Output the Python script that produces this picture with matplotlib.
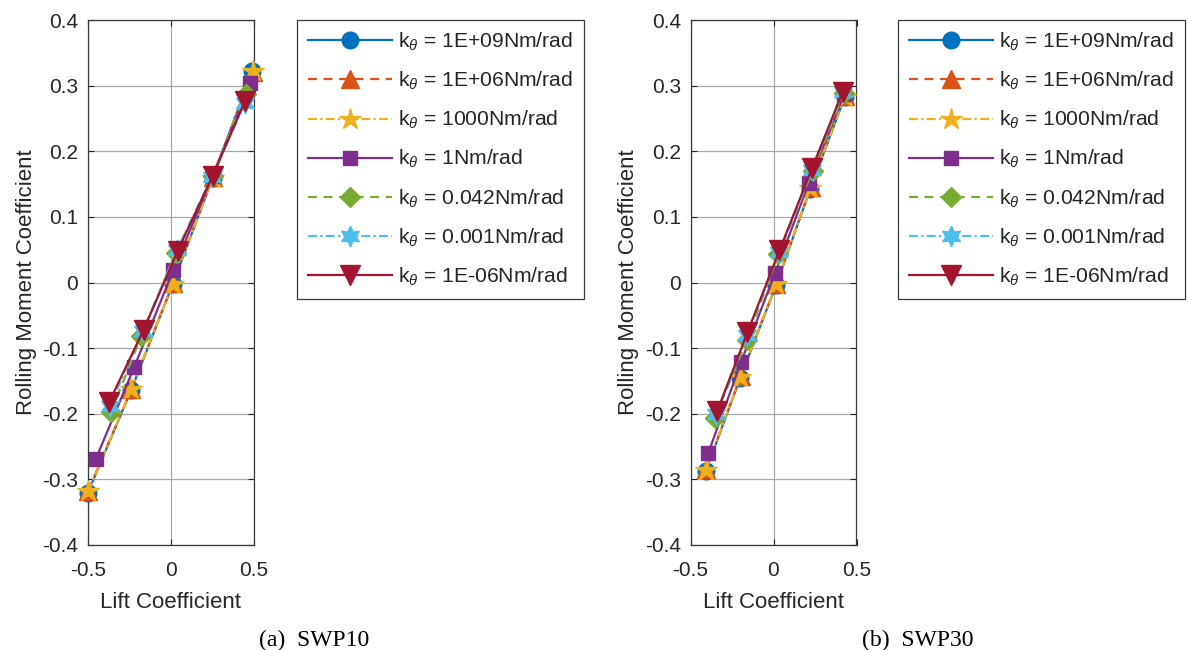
import matplotlib
matplotlib.use("Agg")
import matplotlib.pyplot as plt

plt.rcParams["font.family"] = ["Liberation Sans", "DejaVu Sans"]
plt.rcParams["mathtext.fontset"] = "custom"
plt.rcParams["mathtext.rm"] = "Liberation Sans"
plt.rcParams["mathtext.it"] = "Liberation Sans:italic"
plt.rcParams["axes.unicode_minus"] = False

# Stiffness cases (legend labels)
stiffness_labels = [
    r"k$_{\theta}$ = 1E+09Nm/rad",
    r"k$_{\theta}$ = 1E+06Nm/rad",
    r"k$_{\theta}$ = 1000Nm/rad",
    r"k$_{\theta}$ = 1Nm/rad",
    r"k$_{\theta}$ = 0.042Nm/rad",
    r"k$_{\theta}$ = 0.001Nm/rad",
    r"k$_{\theta}$ = 1E-06Nm/rad",
]

# SWP10: lift coefficient / rolling moment coefficient per stiffness case
swp10_cl = [
    [-0.500, -0.240, 0.010, 0.250, 0.490],
    [-0.498, -0.238, 0.012, 0.252, 0.492],
    [-0.497, -0.240, 0.011, 0.251, 0.491],
    [-0.453, -0.220, 0.014, 0.250, 0.477],
    [-0.360, -0.180, 0.030, 0.250, 0.452],
    [-0.368, -0.170, 0.035, 0.248, 0.446],
    [-0.372, -0.165, 0.040, 0.250, 0.445],
]
swp10_cr = [
    [-0.320, -0.164, -0.003, 0.159, 0.323],
    [-0.317, -0.162, -0.001, 0.161, 0.321],
    [-0.318, -0.163, -0.002, 0.160, 0.322],
    [-0.269, -0.128, 0.019, 0.162, 0.304],
    [-0.197, -0.082, 0.045, 0.163, 0.287],
    [-0.188, -0.074, 0.049, 0.161, 0.274],
    [-0.182, -0.072, 0.048, 0.162, 0.276],
]

# SWP30
swp30_cl = [
    [-0.407, -0.200, 0.016, 0.222, 0.428],
    [-0.405, -0.198, 0.017, 0.223, 0.429],
    [-0.406, -0.200, 0.016, 0.222, 0.428],
    [-0.393, -0.195, 0.010, 0.212, 0.425],
    [-0.353, -0.160, 0.030, 0.235, 0.425],
    [-0.345, -0.158, 0.033, 0.232, 0.420],
    [-0.339, -0.157, 0.036, 0.232, 0.417],
]
swp30_cr = [
    [-0.287, -0.145, -0.004, 0.143, 0.282],
    [-0.284, -0.143, -0.002, 0.145, 0.284],
    [-0.285, -0.144, -0.003, 0.144, 0.283],
    [-0.260, -0.121, 0.015, 0.151, 0.287],
    [-0.206, -0.088, 0.043, 0.170, 0.289],
    [-0.200, -0.080, 0.047, 0.172, 0.290],
    [-0.196, -0.076, 0.049, 0.174, 0.291],
]

panel_captions = ["(a)  SWP10", "(b)  SWP30"]
x_ticks = [-0.5, 0, 0.5]
y_ticks = [-0.4, -0.3, -0.2, -0.1, 0, 0.1, 0.2, 0.3, 0.4]
x_tick_labels = ["-0.5", "0", "0.5"]
y_tick_labels = ["-0.4", "-0.3", "-0.2", "-0.1", "0", "0.1", "0.2", "0.3", "0.4"]

colors = ["#0072BD", "#D95319", "#EDB120", "#7E2F8E", "#77AC30", "#4DBEEE", "#A2142F"]
markers = ["o", "^", "*", "s", "D", (6, 1, 0), "v"]
msizes = [12, 13, 16, 10, 10, 15, 15]
styles = ["-", (0, (4, 3)), (0, (4, 1.5, 1, 1.5)), "-", (0, (4, 3)), (0, (4, 1.5, 1, 1.5)), "-"]

fig = plt.figure(figsize=(11.88, 6.5), dpi=100)
ink = "#262626"

axes_rects = [
    [88 / 1188, 1 - 545 / 650, 166 / 1188, 525 / 650],
    [690.5 / 1188, 1 - 545 / 650, 166 / 1188, 525 / 650],
]
legend_anchor = [(297 / 1188, 1 - 20 / 650), (898 / 1188, 1 - 20 / 650)]
caption_x = [314 / 1188, 918 / 1188]

for p, (cl_set, cr_set) in enumerate([(swp10_cl, swp10_cr), (swp30_cl, swp30_cr)]):
    ax = fig.add_axes(axes_rects[p])
    for i in range(len(stiffness_labels)):
        ax.plot(cl_set[i], cr_set[i], color=colors[i], linestyle=styles[i],
                linewidth=1.6, marker=markers[i], markersize=msizes[i],
                markerfacecolor=colors[i], markeredgecolor=colors[i],
                label=stiffness_labels[i], clip_on=False, zorder=3 + i)
    ax.set_xlim(-0.5, 0.5)
    ax.set_ylim(-0.4, 0.4)
    ax.set_xticks(x_ticks)
    ax.set_xticklabels(x_tick_labels)
    ax.set_yticks(y_ticks)
    ax.set_yticklabels(y_tick_labels)
    ax.grid(True, color="#a8a8a8", linewidth=0.9)
    ax.set_axisbelow(True)
    ax.tick_params(direction="in", length=4, width=0.8, colors=ink,
                   labelsize=15, top=True, right=True)
    ax.tick_params(axis="x", pad=11.5)
    ax.tick_params(axis="y", pad=7)
    for s in ax.spines.values():
        s.set_color("#3a3a3a")
        s.set_linewidth(0.9)
    ax.set_xlabel("Lift Coefficient", fontsize=16, color=ink, labelpad=9)
    ax.set_ylabel("Rolling Moment Coefficient", fontsize=16, color=ink, labelpad=4)

    leg = ax.legend(loc="upper left", bbox_to_anchor=legend_anchor[p],
                    bbox_transform=fig.transFigure, fontsize=15.2, frameon=True,
                    fancybox=False, edgecolor="#3a3a3a", framealpha=1,
                    handlelength=4.0, handletextpad=0.3, borderpad=0.5,
                    labelspacing=0.8, borderaxespad=0, numpoints=1)
    leg.get_frame().set_linewidth(0.9)
    for t in leg.get_texts():
        t.set_color(ink)

    fig.text(caption_x[p], 1 - 640 / 650, panel_captions[p], ha="center", va="center",
             fontsize=17, family="Liberation Serif", color="black")

fig.savefig("out.png", dpi=100)
